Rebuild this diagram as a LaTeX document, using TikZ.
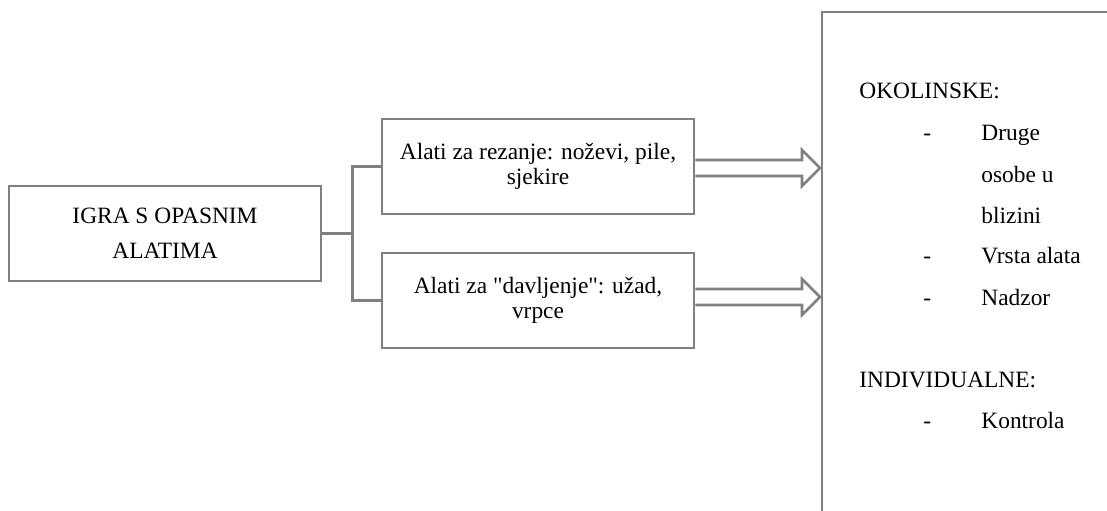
\documentclass[tikz,border=0pt]{standalone}
\usepackage{fontspec}
\setmainfont{Liberation Serif}
\definecolor{linegray}{RGB}{128,128,128}
\begin{document}
\begin{tikzpicture}[x=0.5pt,y=-0.5pt,
  every node/.style={font=\fontsize{11.7}{12.5}\selectfont},
  box/.style={draw=linegray,line width=1.4pt,fill=white,minimum width=156pt,minimum height=47.5pt,align=center,inner sep=0pt},
  conn/.style={draw=linegray,line width=1.4pt},
  blockarrow/.style={draw=linegray,line width=1.3pt,fill=white,line join=miter},
  txt/.style={anchor=base west,inner sep=0pt}]
\useasboundingbox (0,0) rectangle (1107,510);
% main box
\node[box,font=\fontsize{11.7}{17.5}\selectfont] (m) at (165,233.5) {IGRA S OPASNIM\\ALATIMA};
\node[box] (b1) at (538,166.5) {Alati za rezanje: noževi, pile,\\sjekire};
\node[box] (b2) at (538,300.5) {Alati za \textquotedbl davljenje\textquotedbl: užad,\\vrpce};
% connectors
\draw[conn] (m.east) -- ++(30,0) coordinate (j);
\draw[conn] (b1.west) -| (j) |- (b2.west);
% right box (partly visible)
\coordinate (rb) at (822,12);
\draw[conn] (822,512) -- (rb) -- (1110,12);
% block arrows
\draw[blockarrow] (b1.east |- 0,160) -- (802,160) -- (802,150) -- (820,168) -- (802,186) -- (802,176) -- (b1.east |- 0,176);
\draw[blockarrow] (b2.east |- 0,289) -- (802,289) -- (802,279) -- (820,297) -- (802,315) -- (802,305) -- (b2.east |- 0,305);
% right box text
\node[txt] (ok) at (859,98) {OKOLINSKE:};
\node[txt] (d1) at (923,140) {-};
\node[txt] (i1) at (981,140) {Druge};
\node[txt] (i1b) at (981,182) {osobe u};
\node[txt] (i1c) at (981,223) {blizini};
\node[txt] (d2) at (923,263) {-};
\node[txt] (i2) at (981,263) {Vrsta alata};
\node[txt] (d3) at (923,305) {-};
\node[txt] (i3) at (981,305) {Nadzor};
\node[txt] (ind) at (859,387) {INDIVIDUALNE:};
\node[txt] (d4) at (923,428) {-};
\node[txt] (i4) at (981,428) {Kontrola};
\end{tikzpicture}
\end{document}
